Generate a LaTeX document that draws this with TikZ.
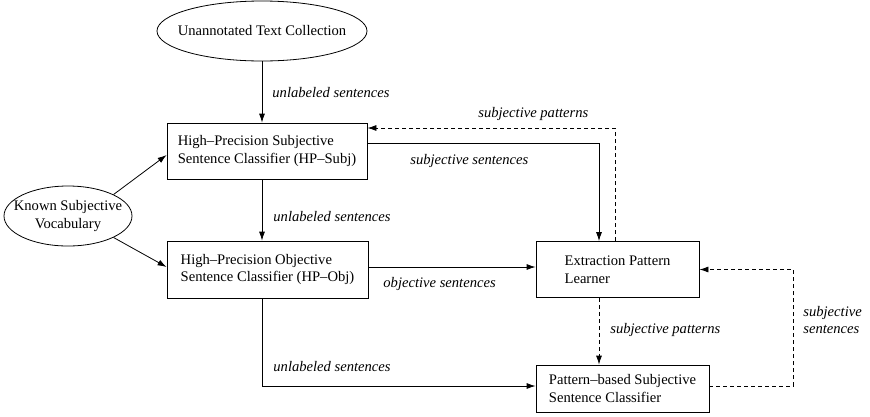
\documentclass[tikz,border=0pt]{standalone}
\usepackage{fontspec}
\setmainfont{Liberation Serif}
\usetikzlibrary{arrows.meta,shapes.geometric}

\tikzset{
  caixa/.style={draw, rectangle, align=left, inner sep=0pt},
  elipse/.style={draw, ellipse, align=center, inner sep=-40pt},
  rotulo/.style={font=\fontsize{14.6}{17.5}\selectfont\itshape, inner sep=0pt, anchor=west, align=left},
  tracejado/.style={dash pattern=on 4pt off 3pt},
}

\begin{document}
\begin{tikzpicture}[x=1pt, y=-1pt, line width=0.8pt, >={Latex[length=9pt,width=6pt]},
    font=\fontsize{14.6}{17.5}\selectfont]
    \useasboundingbox (0,0) rectangle (870,416);

    % Fontes de texto
    \node[elipse, minimum width=210pt, minimum height=60pt] (texto) at (262,31) {Unannotated Text Collection};
    \node[elipse, minimum width=128pt, minimum height=60pt] (vocab) at (68,216) {Known Subjective\\Vocabulary};

    % Classificadores e aprendiz
    \node[caixa, minimum width=200pt, minimum height=56pt] (hpsubj) at (267,151) {High--Precision Subjective\\Sentence Classifier (HP--Subj)};
    \node[caixa, minimum width=201pt, minimum height=57pt] (hpobj) at (267.5,269.5) {High--Precision Objective\\Sentence Classifier (HP--Obj)};
    \node[caixa, minimum width=163pt, minimum height=56pt] (epl) at (617.5,269.5) {Extraction Pattern\\Learner};
    \node[caixa, minimum width=173pt, minimum height=47pt] (pbsc) at (622.5,388.5) {Pattern--based Subjective\\Sentence Classifier};

    % Setas continuas
    \draw[->] (texto) -- (hpsubj.north -| texto);
    \draw[->] (vocab.north east) -- ([yshift=-4pt]hpsubj.west);
    \draw[->] (vocab.south east) -- ([yshift=2.5pt]hpobj.west);
    \draw[->] (hpsubj.south -| texto) -- (hpobj.north -| texto);
    \draw[->] ([yshift=8pt]hpsubj.east) -| ([xshift=-18.5pt]epl.north);
    \draw[->] ([yshift=2.5pt]hpobj.east) -- ([yshift=2.5pt]epl.west);
    \draw[->] (hpobj.south -| texto) |- ([yshift=2.5pt]pbsc.west);

    % Setas tracejadas
    \draw[->, tracejado] ([xshift=-2.5pt]epl.north) |- ([yshift=23pt]hpsubj.east);
    \draw[->, tracejado] ([xshift=-18.5pt]epl.south) -- ([xshift=-23.5pt]pbsc.north);
    \draw[->, tracejado] ([yshift=2.5pt]pbsc.east) -- ++(84,0) |- (epl.east);

    % Rotulos
    \node[rotulo] (r1) at (272,93) {unlabeled sentences};
    \node[rotulo] (r2) at (273,217) {unlabeled sentences};
    \node[rotulo] (r3) at (478,114) {subjective patterns};
    \node[rotulo] (r4) at (410,161) {subjective sentences};
    \node[rotulo] (r5) at (383,284) {objective sentences};
    \node[rotulo] (r6) at (610,330) {subjective patterns};
    \node[rotulo] (r7) at (273,367) {unlabeled sentences};
    \node[rotulo] (r8) at (803,320) {subjective\\sentences};

\end{tikzpicture}
\end{document}
